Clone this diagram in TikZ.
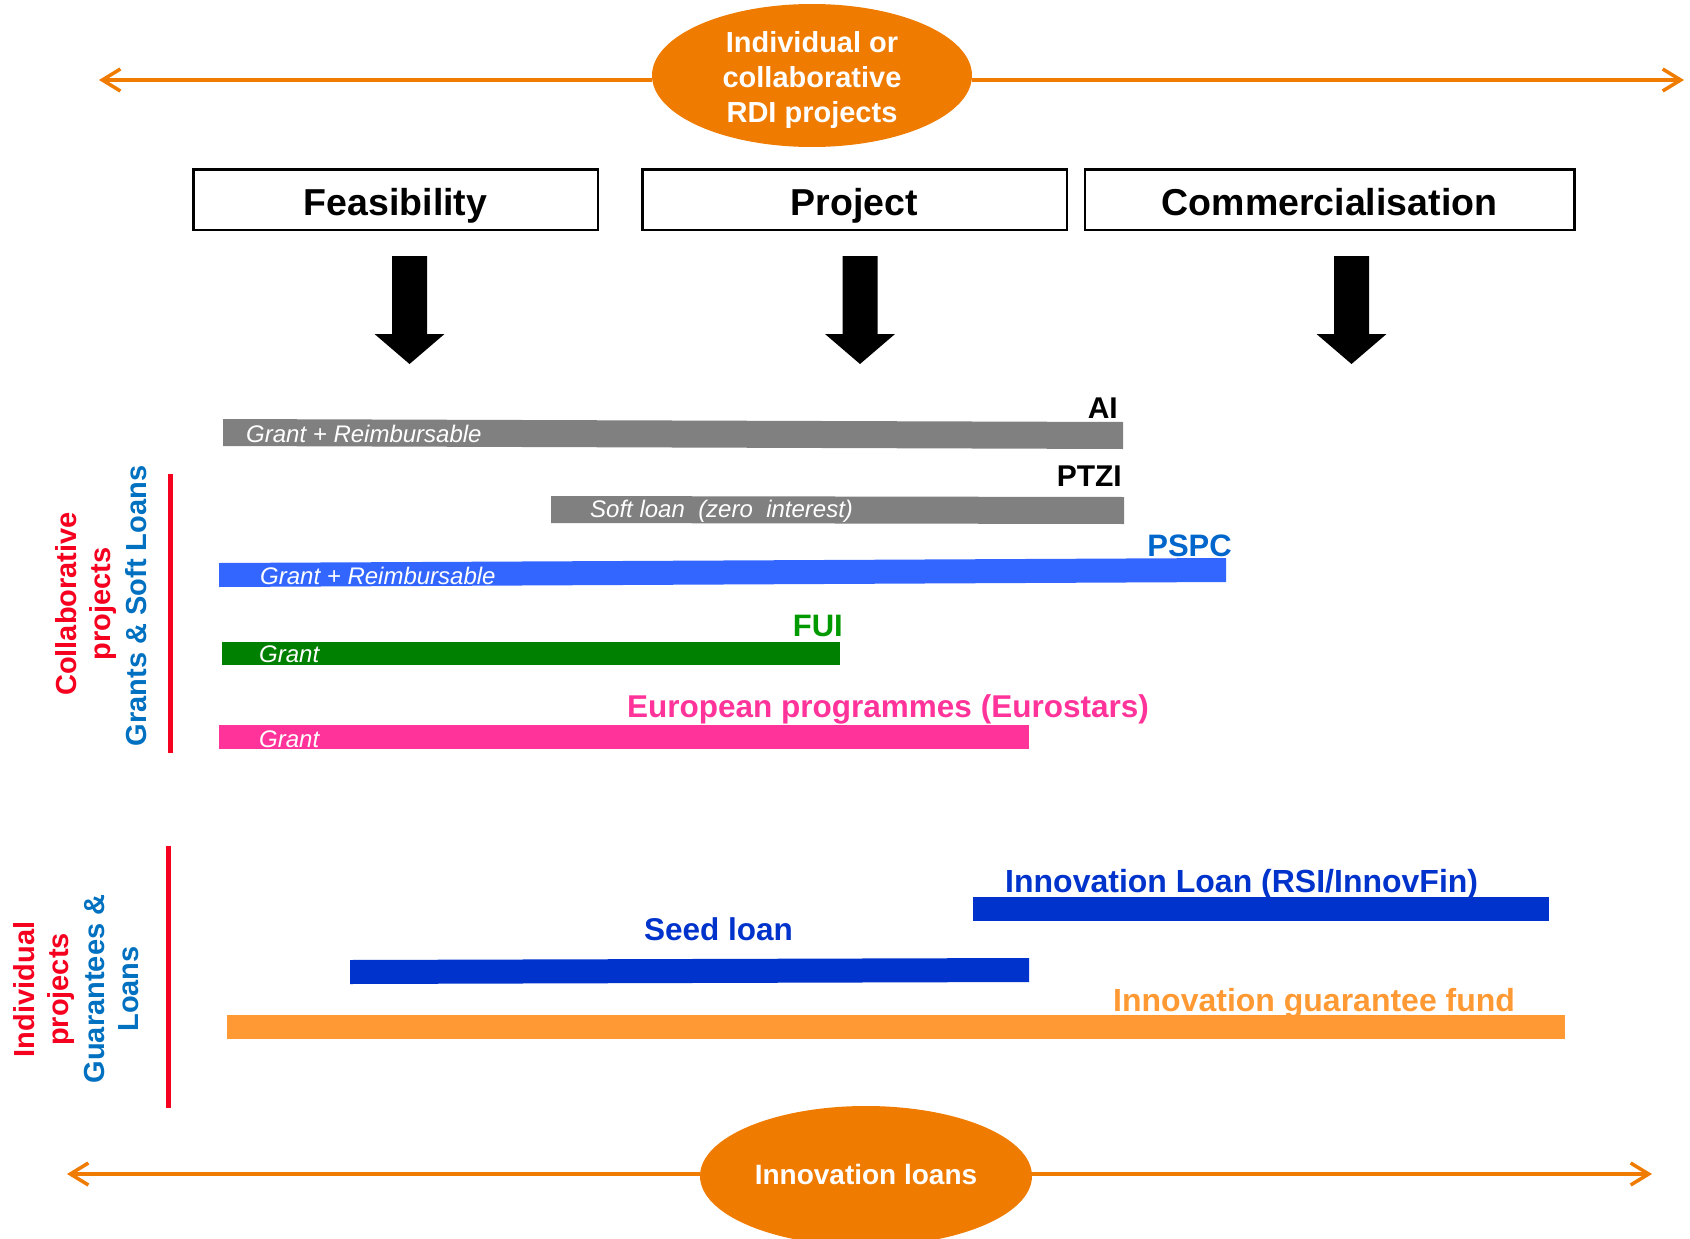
\documentclass[tikz,border=0pt]{standalone}
\usepackage{fontspec}
\setmainfont{Liberation Sans}
\usetikzlibrary{shapes.geometric,arrows.meta}
\definecolor{orng}{RGB}{239,123,0}
\definecolor{redc}{RGB}{245,0,30}
\definecolor{bluec}{RGB}{0,112,192}
\definecolor{pspcl}{RGB}{0,102,204}
\definecolor{pspcb}{RGB}{51,102,255}
\definecolor{fuil}{RGB}{0,153,0}
\definecolor{fuib}{RGB}{0,128,0}
\definecolor{pinkc}{RGB}{255,51,153}
\definecolor{dblue}{RGB}{0,51,204}
\definecolor{obar}{RGB}{255,153,51}
\definecolor{greyb}{RGB}{128,128,128}
\begin{document}
\begin{tikzpicture}[x=1pt,y=-1pt,
  lbl/.style={inner sep=0pt, font=\bfseries\fontsize{30}{36}\selectfont},
  inlbl/.style={inner sep=0pt, text=white, anchor=base west, font=\itshape\fontsize{24}{28}\selectfont},
  phase/.style={draw, line width=2.5pt, minimum height=60.5pt, inner sep=0pt, text height=34pt, text depth=2pt, font=\bfseries\fontsize{37.5}{44}\selectfont},
  oarrow/.style={draw=orng, line width=4pt, -{Straight Barb[length=18pt,width=22pt,line width=3.5pt]}},
  oell/.style={ellipse, fill=orng, inner sep=0pt},
  elltxt/.style={inner sep=0pt, text=white, align=center, font=\bfseries\fontsize{29}{35}\selectfont},
  sidetxt/.style={rotate=90, inner sep=0pt, align=center, font=\bfseries\fontsize{29}{34.5}\selectfont},
  sideline/.style={draw=redc, line width=5pt},
  blockarr/.pic={\fill (-17.5,0) -- (17.5,0) -- (17.5,78) -- (35,78) -- (0,108) -- (-35,78) -- (-17.5,78) -- cycle;}
]
\path[use as bounding box] (0,0) rectangle (1690,1239);
\clip (0,0) rectangle (1690,1239);

% top ellipse and arrows
\coordinate (tl) at (99,80);
\coordinate (tr) at (1684,80);
\node[oell, minimum width=320pt, minimum height=143pt] (topell) at (812,75.5) {};
\node[elltxt, yshift=-5pt] (toptxt) at (topell.center) {Individual or\\collaborative\\RDI projects};
\draw[oarrow] (topell.west |- tl) -- (tl);
\draw[oarrow] (topell.east |- tr) -- (tr);

% phase boxes
\node[phase, minimum width=404.5pt] (feas) at (395.5,199.5) {Feasibility};
\node[phase, minimum width=424.5pt] (proj) at (854.5,199.5) {Project};
\node[phase, minimum width=489.5pt] (comm) at (1329.5,199.5) {Commercialisation};

% block arrows
\pic (arrf) at (409.5,256) {blockarr};
\pic (arrp) at (860,256) {blockarr};
\pic (arrc) at (1351.5,256) {blockarr};

% bars
\fill[greyb] (223,419) -- (1123,422) -- (1123,449) -- (223,446) -- cycle;
\fill[greyb] (551,496) -- (1124,497) -- (1124,524) -- (551,523) -- cycle;
\fill[pspcb] (219,563) -- (1226,558) -- (1226,582) -- (219,587) -- cycle;
\fill[fuib] (222,642) rectangle (840,665);
\fill[pinkc] (219,725) rectangle (1029,749);
\fill[dblue] (973,897) rectangle (1549,921);
\fill[dblue] (350,960) -- (1029,958) -- (1029,982) -- (350,984) -- cycle;
\fill[obar] (227,1015) rectangle (1565,1039);

% labels inside bars
\node[inlbl] (ai-in) at (246,442) {Grant + Reimbursable};
\node[inlbl] (ptzi-in) at (590,517) {Soft loan~ (zero~ interest)};
\node[inlbl] (pspc-in) at (260,584) {Grant + Reimbursable};
\node[inlbl] (fui-in) at (259,662) {Grant};
\node[inlbl] (eur-in) at (259,747) {Grant};

% bar titles
\node[lbl, anchor=base east] (ai) at (1118,418) {AI};
\node[lbl, anchor=base east] (ptzi) at (1122,486) {PTZI};
\node[lbl, anchor=base east, text=pspcl, font=\bfseries\fontsize{31}{36}\selectfont] (pspc) at (1232,556) {PSPC};
\node[lbl, anchor=base east, text=fuil, font=\bfseries\fontsize{31}{36}\selectfont] (fui) at (843,636) {FUI};
\node[lbl, anchor=base west, text=pinkc, font=\bfseries\fontsize{31.5}{36}\selectfont] (eur) at (627,717) {European programmes (Eurostars)};
\node[lbl, anchor=base west, text=dblue, font=\bfseries\fontsize{32}{36}\selectfont] (il) at (1005,892) {Innovation Loan (RSI/InnovFin)};
\node[lbl, anchor=base west, text=dblue, font=\bfseries\fontsize{31.5}{36}\selectfont] (seed) at (644,940) {Seed loan};
\node[lbl, anchor=base west, text=obar, font=\bfseries\fontsize{32}{36}\selectfont] (igf) at (1113,1011) {Innovation guarantee fund};

% side labels and lines
\coordinate (l1a) at (170.5,474);
\coordinate (l1b) at (170.5,753);
\coordinate (l2a) at (168.5,846);
\coordinate (l2b) at (168.5,1108);
\draw[sideline] (l1a) -- (l1b);
\draw[sideline] (l2a) -- (l2b);
\node[sidetxt, text=redc] (collab) at (86,604) {Collaborative\\projects};
\node[sidetxt, text=bluec] (grants) at (136,606) {Grants \& Soft Loans};
\node[sidetxt, text=redc] (indiv) at (44,989.5) {Individual\\projects};
\node[sidetxt, text=bluec] (guar) at (111.5,989) {Guarantees \&\\Loans};

% bottom ellipse and arrows
\coordinate (bl) at (67,1174);
\coordinate (br) at (1652,1174);
\node[oell, minimum width=332pt, minimum height=140pt] (botell) at (866,1176) {};
\node[elltxt, font=\bfseries\fontsize{28}{34}\selectfont] (bottxt) at (866,1174) {Innovation loans};
\draw[oarrow] (botell.west |- bl) -- (bl);
\draw[oarrow] (botell.east |- br) -- (br);
\end{tikzpicture}
\end{document}
